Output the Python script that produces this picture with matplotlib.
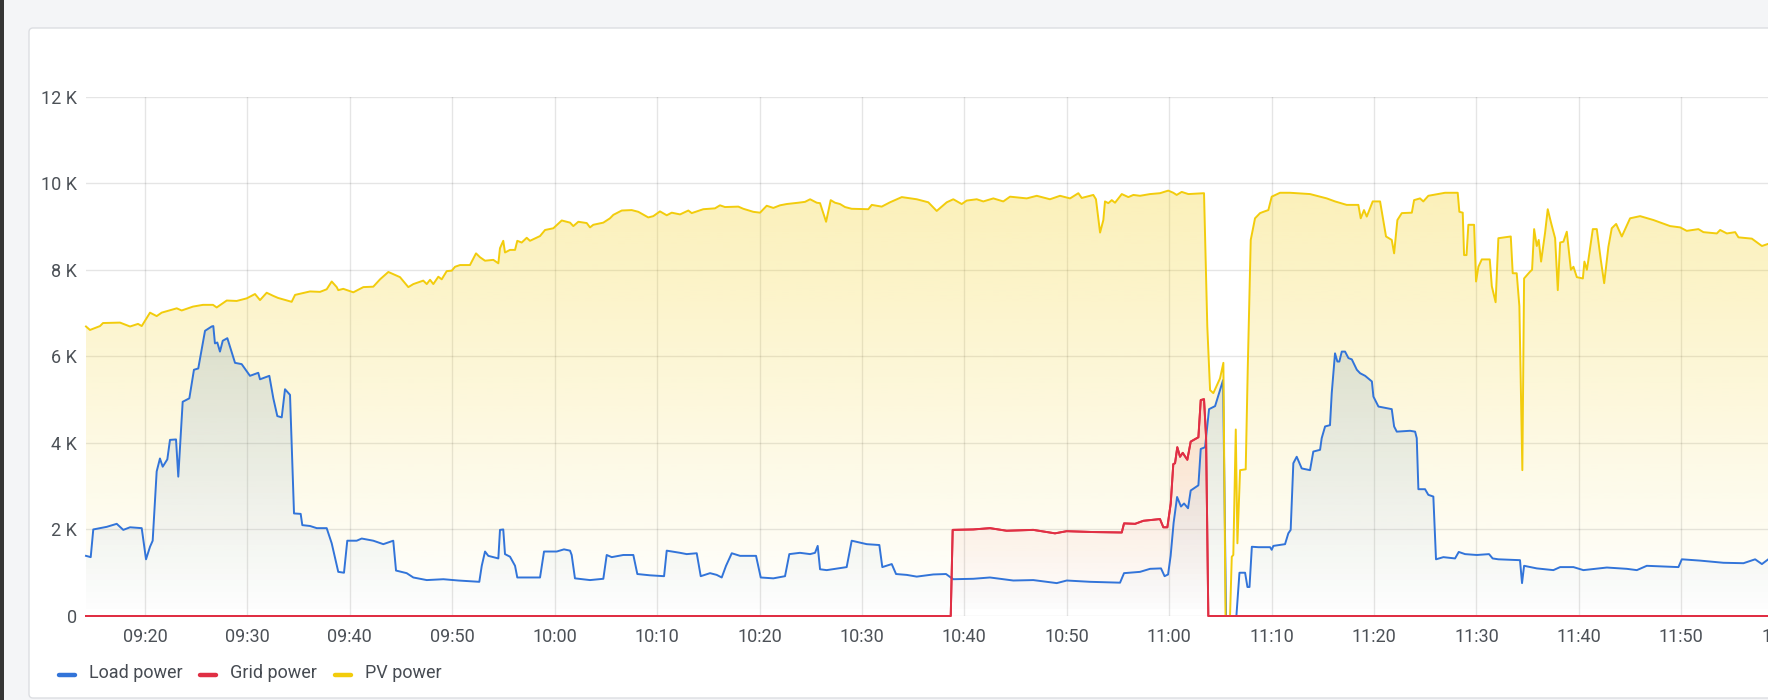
import numpy as np
import pandas as pd
import matplotlib
matplotlib.use("Agg")
import matplotlib.pyplot as plt
import matplotlib.dates as mdates
import matplotlib.colors as mcolors
from matplotlib.patches import FancyBboxPatch, Rectangle
from matplotlib.lines import Line2D
from matplotlib.transforms import IdentityTransform
from matplotlib.ticker import FuncFormatter, MultipleLocator

plt.rcParams['font.family'] = ['Roboto', 'DejaVu Sans']

# time = minutes after 09:00, values in W
pv_t = [14.24, 14.63, 15.61, 15.90, 17.56, 18.54, 19.32, 19.68, 20.49, 21.14,
        21.63, 23.10, 23.58, 24.69, 25.66, 26.64, 27.00, 27.98, 28.95, 29.93,
        30.74, 31.23, 31.88, 32.50, 32.99, 34.32, 34.65, 36.11, 37.09, 37.74,
        38.23, 38.72, 38.87, 39.36, 40.34, 41.32, 42.29, 42.95, 43.76, 44.90,
        45.71, 46.20, 47.17, 47.51, 47.83, 48.15, 48.64, 48.97, 49.46, 49.95,
        50.27, 50.76, 51.73, 52.32, 52.71, 53.20, 54.01, 54.50, 54.66, 54.98,
        55.15, 55.64, 56.13, 56.35, 56.78, 57.27, 57.59, 58.57, 59.06, 59.87,
        60.69, 61.50, 61.82, 62.31, 63.13, 63.45, 63.77, 64.75, 65.40, 65.73,
        66.55, 67.52, 68.17, 69.14, 69.63, 70.28, 70.94, 71.43, 72.24, 73.05,
        73.38, 74.51, 75.65, 76.14, 76.63, 77.93, 78.42, 79.39, 80.05, 80.70,
        81.35, 82.00, 82.66, 83.79, 84.44, 84.94, 85.59, 85.91, 86.50, 86.95,
        87.37, 87.86, 88.35, 89.00, 90.62, 90.96, 91.93, 92.74, 93.89, 95.35,
        96.48, 97.30, 98.28, 98.92, 99.74, 100.23, 101.21, 101.85, 102.83, 103.80,
        104.46, 106.09, 107.07, 108.36, 109.34, 110.32, 111.13, 111.46, 112.59, 112.85,
        113.08, 113.25, 113.57, 113.73, 114.06, 114.39, 114.71, 115.37, 116.01, 116.50,
        117.15, 118.13, 119.10, 119.91, 120.40, 120.73, 121.22, 121.87, 123.40, 123.72,
        123.99, 124.31, 124.96, 125.29, 125.50, 125.94, 126.11, 126.26, 126.50, 126.66,
        126.92, 127.47, 127.67, 127.96, 128.38, 128.87, 129.20, 129.68, 130.01, 130.82,
        131.80, 133.75, 135.38, 136.19, 137.33, 138.47, 138.70, 139.02, 139.29, 139.87,
        140.59, 141.17, 141.73, 141.96, 142.28, 142.71, 143.69, 143.91, 144.49, 144.81,
        145.30, 146.93, 148.17, 148.33, 148.66, 148.79, 149.03, 149.21, 149.77, 149.96,
        150.19, 150.52, 151.30, 151.50, 151.87, 152.14, 153.35, 153.54, 153.93, 154.19,
        154.48, 154.65, 155.24, 155.43, 155.63, 155.89, 156.08, 156.31, 156.70, 156.96,
        157.29, 157.68, 157.94, 158.17, 158.49, 158.82, 159.22, 159.47, 159.80, 160.39,
        160.54, 160.78, 160.93, 161.36, 161.75, 162.14, 162.47, 162.88, 163.21, 163.64,
        164.19, 165.00, 165.98, 167.28, 168.91, 169.89, 170.53, 171.67, 172.16, 173.47,
        173.79, 174.45, 175.26, 175.58, 176.89, 177.87, 178.49]
pv_w = [6690, 6610, 6700, 6770, 6780, 6690, 6750, 6700, 7010, 6930,
        7010, 7110, 7060, 7150, 7190, 7190, 7130, 7290, 7280, 7340,
        7440, 7300, 7470, 7400, 7350, 7260, 7420, 7500, 7490, 7550,
        7730, 7600, 7530, 7560, 7480, 7600, 7610, 7780, 7950, 7830,
        7600, 7670, 7750, 7670, 7770, 7670, 7840, 7780, 7970, 7980,
        8070, 8110, 8110, 8380, 8290, 8210, 8230, 8150, 8500, 8670,
        8400, 8460, 8460, 8670, 8630, 8740, 8670, 8780, 8920, 8960,
        9140, 9090, 9010, 9110, 9080, 8980, 9040, 9090, 9190, 9270,
        9370, 9380, 9340, 9210, 9240, 9350, 9260, 9320, 9280, 9370,
        9310, 9400, 9420, 9490, 9450, 9460, 9410, 9340, 9320, 9480,
        9430, 9490, 9520, 9550, 9570, 9630, 9550, 9540, 9110, 9610,
        9550, 9520, 9450, 9410, 9400, 9500, 9460, 9560, 9680, 9630,
        9560, 9360, 9560, 9630, 9520, 9600, 9630, 9580, 9650, 9580,
        9690, 9650, 9710, 9630, 9710, 9650, 9770, 9660, 9730, 9630,
        9190, 8860, 9150, 9580, 9540, 9610, 9550, 9750, 9680, 9730,
        9710, 9750, 9770, 9830, 9780, 9730, 9800, 9750, 9770, 6690,
        5220, 5150, 5490, 5850, 0, 0, 1370, 1410, 4310, 1680,
        3370, 3390, 5720, 8690, 9190, 9310, 9340, 9380, 9690, 9780,
        9780, 9750, 9650, 9580, 9500, 9500, 9190, 9380, 9230, 9580,
        9580, 8770, 8690, 8380, 9150, 9310, 9320, 9610, 9650, 9580,
        9710, 9780, 9780, 9340, 9320, 8340, 8340, 9040, 9040, 7730,
        8070, 8240, 8240, 7620, 7250, 8730, 8770, 7920, 7920, 7160,
        3370, 7800, 7960, 8000, 8940, 8550, 8690, 8190, 8860, 9400,
        9080, 8730, 7530, 8630, 8650, 8880, 8000, 8070, 7830, 7800,
        8190, 8000, 8230, 8940, 8940, 8230, 7690, 8530, 8960, 9060,
        8770, 9190, 9240, 9150, 9010, 8980, 8900, 8940, 8870, 8840,
        8920, 8840, 8870, 8750, 8720, 8550, 8600]

load_t = [14.24, 14.70, 14.95, 16.26, 17.24, 17.88, 18.54, 19.68, 20.10, 20.49,
          20.75, 21.14, 21.46, 21.73, 22.18, 22.44, 23.03, 23.25, 23.68, 24.33,
          24.78, 25.20, 25.86, 26.51, 26.67, 26.83, 27.06, 27.32, 27.59, 28.04,
          28.79, 29.44, 30.25, 31.06, 31.23, 32.14, 32.53, 32.92, 33.35, 33.67,
          34.16, 34.55, 35.20, 35.36, 36.11, 36.77, 37.74, 38.23, 38.87, 39.43,
          39.75, 40.67, 41.16, 42.29, 43.27, 44.24, 44.51, 45.55, 46.20, 47.51,
          49.13, 50.59, 52.64, 52.88, 53.20, 53.52, 54.50, 54.66, 54.98, 55.15,
          55.64, 56.13, 56.35, 58.57, 58.96, 60.20, 60.91, 61.50, 61.66, 61.98,
          63.45, 64.75, 65.08, 65.57, 66.70, 67.68, 68.07, 69.31, 70.68, 70.94,
          72.24, 72.89, 73.87, 74.26, 75.17, 75.82, 76.31, 76.73, 77.29, 78.10,
          79.66, 80.12, 81.35, 82.49, 82.91, 83.95, 84.94, 85.42, 85.68, 85.91,
          86.56, 88.51, 89.00, 90.47, 91.70, 91.99, 92.91, 93.33, 94.37, 95.35,
          96.97, 98.21, 98.67, 98.92, 100.87, 102.50, 104.78, 106.73, 108.04, 109.02,
          110.00, 112.27, 115.20, 115.59, 117.15, 118.13, 119.20, 119.55, 119.89, 120.14,
          120.43, 120.77, 121.15, 121.45, 121.84, 122.10, 122.85, 123.08, 123.50, 123.89,
          124.48, 125.26, 125.55, 126.56, 126.86, 127.41, 127.64, 127.84, 128.07, 128.71,
          129.85, 130.01, 130.17, 131.31, 131.63, 131.86, 132.12, 132.45, 132.94, 133.75,
          134.07, 134.73, 134.89, 135.22, 135.70, 135.87, 136.19, 136.42, 136.61, 136.85,
          137.17, 137.50, 137.83, 138.32, 138.64, 139.13, 139.79, 139.94, 140.43, 141.73,
          141.96, 142.22, 143.52, 144.01, 144.17, 144.33, 144.98, 145.30, 145.79, 146.05,
          146.77, 147.91, 148.27, 148.89, 150.03, 151.23, 151.58, 152.14, 154.25, 154.45,
          154.65, 155.89, 157.51, 158.17, 159.47, 160.44, 162.73, 164.68, 165.66, 166.63,
          168.59, 169.72, 170.05, 171.84, 174.11, 176.07, 177.21, 177.87, 178.49]
load_w = [1390, 1360, 2000, 2060, 2130, 1990, 2050, 2030, 1310, 1600,
          1740, 3340, 3640, 3450, 3620, 4070, 4080, 3220, 4950, 5030,
          5690, 5720, 6590, 6690, 6700, 6300, 6320, 6110, 6360, 6420,
          5850, 5820, 5550, 5620, 5470, 5550, 5030, 4620, 4590, 5240,
          5110, 2370, 2360, 2100, 2080, 2030, 2030, 1680, 1020, 1000,
          1740, 1740, 1790, 1740, 1660, 1740, 1050, 990, 890, 830,
          850, 820, 790, 1160, 1490, 1390, 1330, 1990, 2000, 1430,
          1370, 1160, 890, 890, 1490, 1490, 1540, 1510, 1410, 870,
          830, 860, 1410, 1360, 1410, 1410, 970, 940, 920, 1510,
          1460, 1430, 1450, 920, 990, 950, 890, 1160, 1450, 1390,
          1390, 890, 870, 920, 1430, 1460, 1430, 1460, 1620, 1080,
          1060, 1130, 1740, 1660, 1640, 1130, 1200, 970, 950, 910,
          960, 970, 890, 850, 860, 890, 820, 830, 790, 760,
          820, 790, 770, 990, 1020, 1090, 1100, 920, 960, 1390,
          2150, 2750, 2530, 2600, 2490, 2900, 3020, 3860, 3900, 4780,
          4850, 5450, 0, 0, 1000, 1000, 670, 670, 1600, 1590,
          1590, 1530, 1620, 1660, 1910, 1990, 3530, 3680, 3410, 3370,
          3800, 3840, 4110, 4380, 4410, 5150, 6070, 5880, 5880, 6110,
          6110, 5960, 5930, 5690, 5610, 5550, 5420, 5070, 4840, 4780,
          4380, 4260, 4280, 4260, 4110, 2930, 2930, 2800, 2760, 1310,
          1360, 1330, 1480, 1430, 1410, 1430, 1330, 1310, 1290, 760,
          1160, 1100, 1060, 1130, 1130, 1060, 1120, 1090, 1060, 1160,
          1140, 1130, 1310, 1280, 1230, 1220, 1310, 1200, 1310]

grid_t = [14.24, 98.67, 98.86, 100.87, 102.50, 104.13, 106.73, 108.85, 109.99, 112.59,
          115.37, 115.59, 116.67, 117.48, 119.10, 119.43, 119.82, 120.15, 120.40, 120.57,
          120.79, 121.06, 121.32, 121.77, 122.10, 122.85, 123.08, 123.40, 123.60, 123.82,
          178.49]
grid_w = [0, 0, 1990, 2000, 2030, 1970, 1990, 1910, 1960, 1940,
          1930, 2140, 2130, 2200, 2240, 2050, 2050, 2600, 3510, 3530,
          3900, 3680, 3770, 3610, 4030, 4130, 4990, 5010, 4140, 0,
          0]

labels = ["Load power", "Grid power", "PV power"]
colors = ["#3274D9", "#E02F44", "#F2CC0C"]

base = pd.Timestamp("2024-05-01 09:00")


def to_num(mins):
    return mdates.date2num((base + pd.to_timedelta(mins, unit="min")).to_numpy())


W, H = 1768, 700
fig = plt.figure(figsize=(W / 100, H / 100), dpi=100)
fig.patch.set_facecolor("#f4f5f7")
px = IdentityTransform()

# dashboard bits: dark strip on the left and the white panel card
fig.add_artist(Rectangle((0, 0), 3.5, H, transform=px, facecolor="#353535",
                         edgecolor="none", zorder=-2))
fig.add_artist(FancyBboxPatch((29, 2), 1800, 670, boxstyle="round,pad=0,rounding_size=4",
                              transform=px, facecolor="white", edgecolor="#dcdee2",
                              lw=1.0, zorder=-1))

ax = fig.add_axes([86 / W, 84 / H, (1790 - 86) / W, (616 - 96.7) / H])
ax.set_facecolor("none")

YMAX = 12000
x0 = to_num(14.24)
x1 = to_num(20 + (1790 - 145) / 10.242)


def gradient_fill(x, y, color, top_alpha, z):
    poly = ax.fill_between(x, y, 0, facecolor="none", edgecolor="none")
    grad = np.zeros((256, 1, 4))
    grad[..., :3] = mcolors.to_rgb(color)
    grad[:, 0, 3] = np.linspace(top_alpha, 0, 256)
    im = ax.imshow(grad, aspect="auto", origin="upper", interpolation="bilinear",
                   extent=[x[0], x[-1], 0, YMAX], zorder=z)
    im.set_clip_path(poly.get_paths()[0], transform=ax.transData)


series = [(load_t, load_w), (grid_t, grid_w), (pv_t, pv_w)]
for i, ((t, w), c) in enumerate(zip(series, colors)):
    x = to_num(t)
    gradient_fill(x, np.array(w), c, 0.35, 1 + i * 0.1)
    ax.plot(x, w, color=c, lw=1.4, zorder=3 + i * 0.1, solid_joinstyle="round",
            clip_on=False)

# red zero line stays on top
ax.plot(to_num(grid_t), grid_w, color=colors[1], lw=1.4, zorder=3.5, clip_on=False)

ax.set_xlim(x0, x1)
ax.set_ylim(0, YMAX)
ax.yaxis.set_major_locator(MultipleLocator(2000))
ax.yaxis.set_major_formatter(FuncFormatter(lambda v, p: "0" if v == 0 else f"{v / 1000:.0f} K"))
ax.xaxis.set_major_locator(mdates.MinuteLocator(byminute=range(0, 60, 10)))
ax.xaxis.set_major_formatter(mdates.DateFormatter("%H:%M"))
ax.grid(True, color="black", alpha=0.1, lw=1.0, zorder=0)
ax.set_axisbelow(True)
for s in ax.spines.values():
    s.set_visible(False)
ax.tick_params(axis="both", length=0, labelsize=13, colors="#4c5157")
ax.tick_params(axis="y", pad=6.5)
ax.tick_params(axis="x", pad=9)

# legend drawn by hand, Grafana style
leg_x = [57, 198, 333]
for lx, lab, c in zip(leg_x, labels, colors):
    fig.add_artist(Line2D([lx + 2, lx + 18], [25, 25], transform=px, color=c,
                          lw=3.2, solid_capstyle="round"))
    fig.text((lx + 32) / W, 27 / H, lab, va="center", ha="left", fontsize=13,
             color="#464b52")

fig.savefig("out.png", dpi=100, facecolor=fig.get_facecolor())
